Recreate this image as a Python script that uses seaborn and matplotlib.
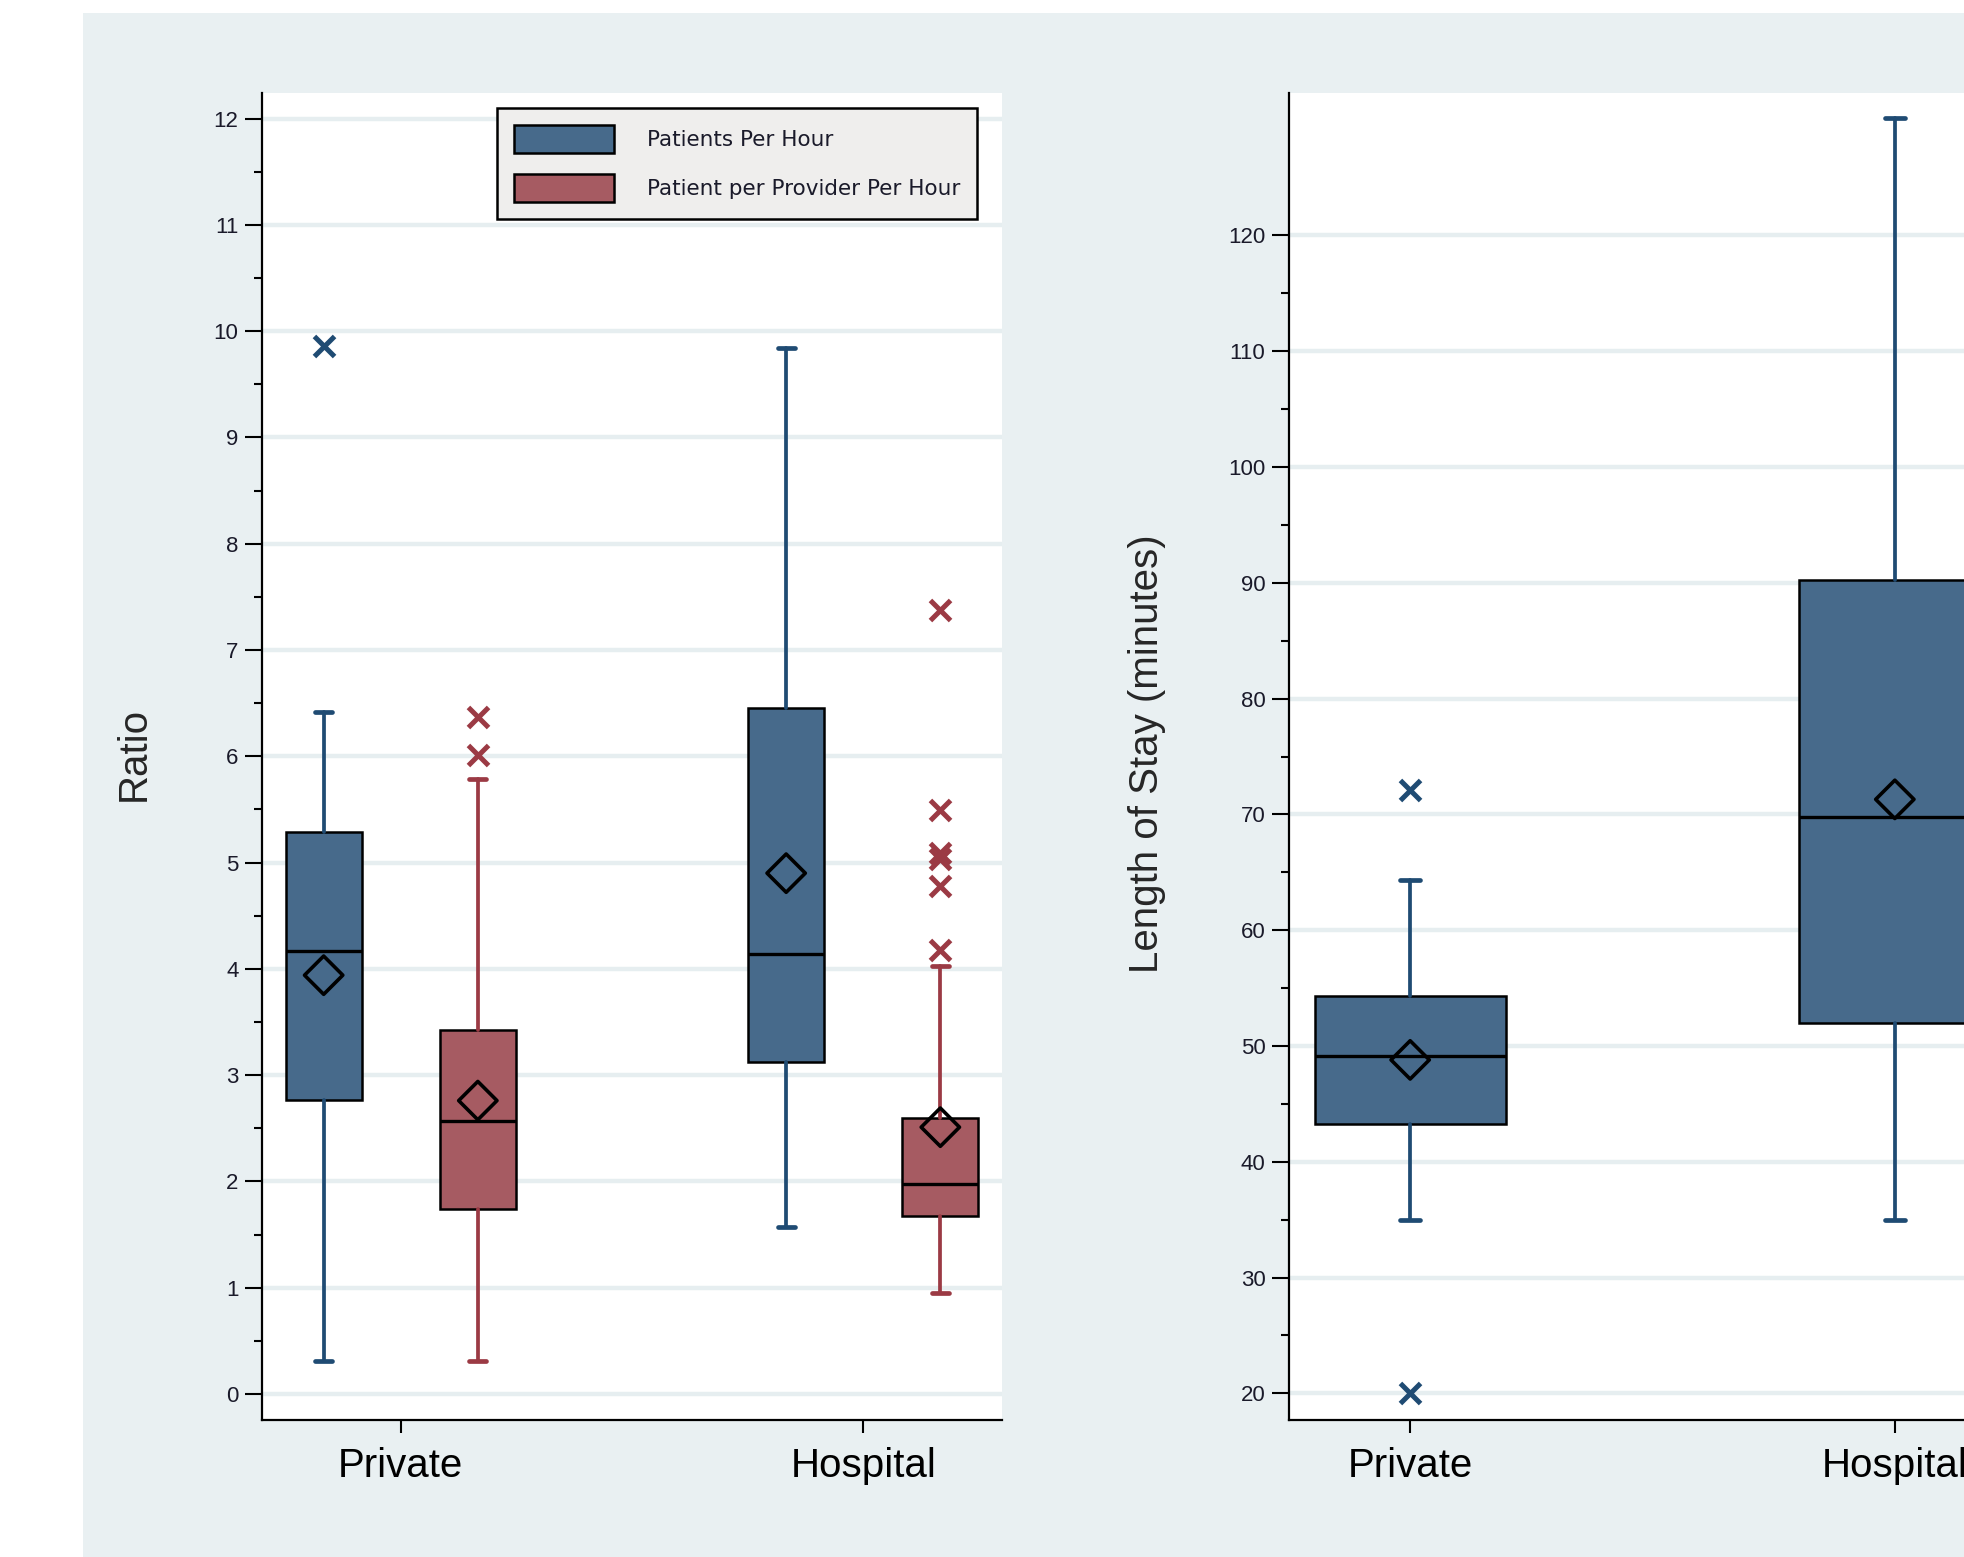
import numpy as np
import pandas as pd
import matplotlib
matplotlib.use("Agg")
import matplotlib.pyplot as plt
from matplotlib.patches import Patch, Rectangle
from matplotlib.ticker import FixedLocator
import seaborn as sns

# ---------------- data ----------------
categories = ["Private", "Hospital"]
series = ["Patients Per Hour", "Patient per Provider Per Hour"]

# Left panel: Ratio
pph_whislo = [0.31, 1.57]
pph_q1 = [2.77, 3.12]
pph_med = [4.17, 4.14]
pph_q3 = [5.29, 6.45]
pph_whishi = [6.42, 9.84]
pph_mean = [3.94, 4.90]
pph_fliers = [[9.86], []]

ppp_whislo = [0.31, 0.95]
ppp_q1 = [1.74, 1.67]
ppp_med = [2.57, 1.98]
ppp_q3 = [3.42, 2.60]
ppp_whishi = [5.79, 4.03]
ppp_mean = [2.76, 2.51]
ppp_fliers = [[6.01, 6.37], [4.18, 4.78, 5.03, 5.09, 5.49, 7.38]]

# Right panel: Length of stay (minutes)
los_whislo = [35.0, 35.0]
los_q1 = [43.3, 52.0]
los_med = [49.1, 69.8]
los_q3 = [54.3, 90.2]
los_whishi = [64.3, 130.1]
los_mean = [48.8, 71.3]
los_fliers = [[72.1, 20.0], []]

# ---------------- style ----------------
sns.set_style("white")
plt.rcParams["font.family"] = ["Liberation Sans", "DejaVu Sans"]

BLUE_FILL = "#476a8b"
BLUE_LINE = "#1f4b73"
RED_FILL = "#a65b62"
RED_LINE = "#9b3a44"
GRID = "#e6eef0"
PANEL_BG = "#e9f0f2"

W, H = 1964, 1557
fig = plt.figure(figsize=(W / 100, H / 100), dpi=100, facecolor="white")
fig.patches.append(Rectangle((83 / W, 0), 1, (H - 13) / H, transform=fig.transFigure,
                             facecolor=PANEL_BG, edgecolor="none", zorder=-10))


def px_axes(x0, x1, ytop, ybot):
    return fig.add_axes([x0 / W, (H - ybot) / H, (x1 - x0) / W, (ybot - ytop) / H])


ax1 = px_axes(262, 1002, 93, 1420)
ax2 = px_axes(1289, 2016, 93, 1420)


def stats_list(whislo, q1, med, q3, whishi, mean, fliers):
    out = []
    for i in range(len(med)):
        out.append(dict(whislo=whislo[i], q1=q1[i], med=med[i], q3=q3[i],
                        whishi=whishi[i], mean=mean[i], fliers=fliers[i]))
    return out


def draw_boxes(ax, stats, positions, width, capw, fill, line):
    ax.bxp(stats, positions=positions, widths=width, capwidths=capw,
           patch_artist=True, showfliers=False, showmeans=False,
           boxprops=dict(facecolor=fill, edgecolor="black", linewidth=1.8),
           medianprops=dict(color="black", linewidth=2.4),
           whiskerprops=dict(color=line, linewidth=2.7),
           capprops=dict(color=line, linewidth=3.4),
           manage_ticks=False, zorder=3)


def draw_points(ax, positions, fliers, means, line):
    fx, fy = [], []
    for p, fl in zip(positions, fliers):
        for v in fl:
            fx.append(p)
            fy.append(v)
    if fx:
        sns.scatterplot(data=pd.DataFrame({"x": fx, "y": fy}), x="x", y="y", ax=ax,
                        marker="x", color=line, s=210, linewidth=3.6, zorder=4)
    sns.scatterplot(data=pd.DataFrame({"x": positions, "y": means}), x="x", y="y", ax=ax,
                    marker="D", facecolor="none", edgecolor="black", s=380,
                    linewidth=2.6, zorder=5)
    ax.set_xlabel("")
    ax.set_ylabel("")


# left panel
idx = np.arange(len(categories))
off = 1 / 6
pos_b = idx - off
pos_r = idx + off
draw_boxes(ax1, stats_list(pph_whislo, pph_q1, pph_med, pph_q3, pph_whishi, pph_mean, pph_fliers),
           pos_b, 0.165, 0.037, BLUE_FILL, BLUE_LINE)
draw_boxes(ax1, stats_list(ppp_whislo, ppp_q1, ppp_med, ppp_q3, ppp_whishi, ppp_mean, ppp_fliers),
           pos_r, 0.165, 0.037, RED_FILL, RED_LINE)
draw_points(ax1, pos_b, pph_fliers, pph_mean, BLUE_LINE)
draw_points(ax1, pos_r, ppp_fliers, ppp_mean, RED_LINE)
ax1.set_xlim(-0.3, 1.3)
ax1.set_ylim(-0.245, 12.24)
ax1.yaxis.set_major_locator(FixedLocator(np.arange(0, 13, 1)))
ax1.yaxis.set_minor_locator(FixedLocator(np.arange(0.5, 12, 1)))

# right panel
draw_boxes(ax2, stats_list(los_whislo, los_q1, los_med, los_q3, los_whishi, los_mean, los_fliers),
           idx, 0.394, 0.041, BLUE_FILL, BLUE_LINE)
draw_points(ax2, idx, los_fliers, los_mean, BLUE_LINE)
ax2.set_xlim(-0.25, 1.25)
ax2.set_ylim(17.7, 132.3)
ax2.yaxis.set_major_locator(FixedLocator(np.arange(20, 121, 10)))
ax2.yaxis.set_minor_locator(FixedLocator(np.arange(25, 120, 10)))

for ax in (ax1, ax2):
    ax.set_facecolor("white")
    ax.set_axisbelow(True)
    ax.yaxis.grid(True, which="major", color=GRID, linewidth=3.2)
    ax.xaxis.grid(False)
    ax.set_xticks(idx)
    ax.set_xticklabels(categories, fontsize=29)
    for s in ("top", "right"):
        ax.spines[s].set_visible(False)
    for s in ("left", "bottom"):
        ax.spines[s].set_color("black")
        ax.spines[s].set_linewidth(1.6)
    ax.tick_params(axis="x", which="major", direction="out", length=9.5, width=1.5,
                   pad=10, colors="black", bottom=True)
    ax.tick_params(axis="y", which="major", direction="out", length=12, width=1.5,
                   pad=5, labelsize=16, colors="black", left=True, labelcolor="#1a1a2a")
    ax.tick_params(axis="y", which="minor", direction="out", length=6, width=1.5,
                   colors="black", left=True)

fig.text(134 / W, 1 - 754 / H, "Ratio", rotation=90, ha="center", va="center", fontsize=29)
fig.text(1147 / W, 1 - 754 / H, "Length of Stay (minutes)", rotation=90,
         ha="center", va="center", fontsize=29)

handles = [Patch(facecolor=BLUE_FILL, edgecolor="black", linewidth=1.8),
           Patch(facecolor=RED_FILL, edgecolor="black", linewidth=1.8)]
leg = ax1.legend(handles, series, loc="upper left",
                 bbox_to_anchor=(497 / W, 1 - 108 / H), bbox_transform=fig.transFigure,
                 borderaxespad=0, frameon=True, fancybox=False,
                 prop={"family": "DejaVu Sans", "size": 15.5},
                 handlelength=4.65, handleheight=1.59, handletextpad=1.5,
                 labelspacing=1.0, borderpad=0.8)
for t in leg.get_texts():
    t.set_color("#1a1a2a")
frame = leg.get_frame()
frame.set_facecolor("#efeeed")
frame.set_edgecolor("black")
frame.set_linewidth(1.8)
frame.set_alpha(1)
leg.set_zorder(10)

fig.savefig("out.png", dpi=100, facecolor="white")
